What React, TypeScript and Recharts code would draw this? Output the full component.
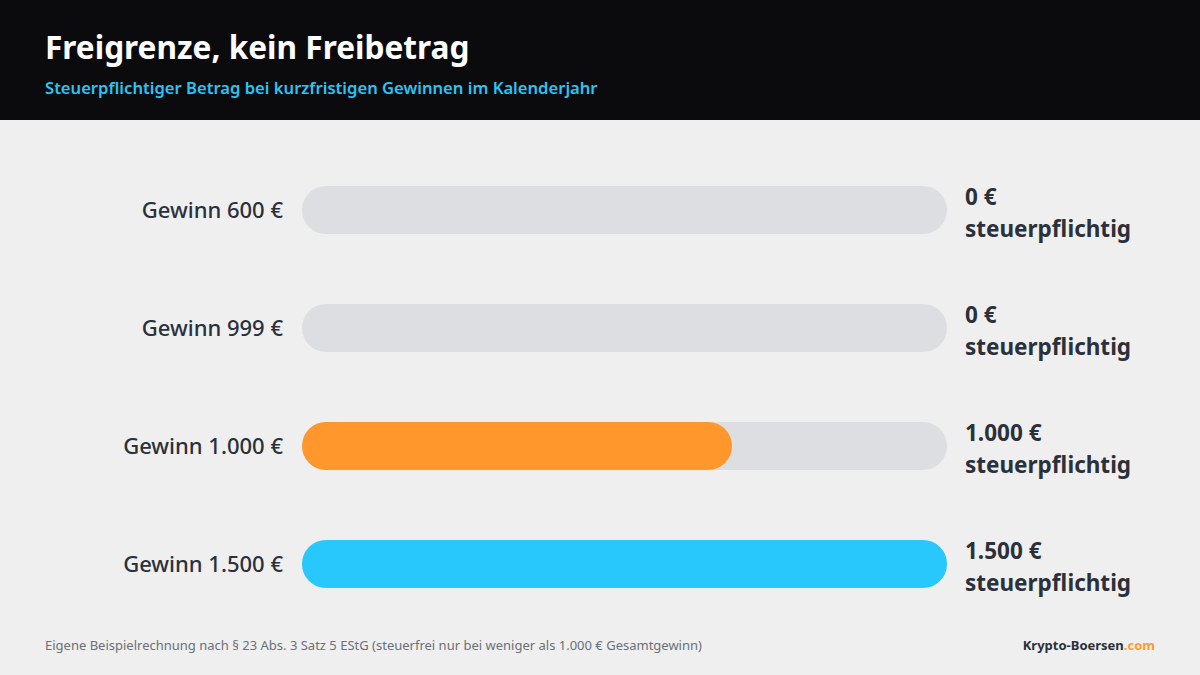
import React from 'react';
import { BarChart, Bar, XAxis, YAxis, Cell } from 'recharts';

const categories = ['Gewinn 600 €', 'Gewinn 999 €', 'Gewinn 1.000 €', 'Gewinn 1.500 €'];
const taxable = [0, 0, 1000, 1500];
const valueLabels = ['0 €', '0 €', '1.000 €', '1.500 €'];
const barColors = ['#ff9a2e', '#ff9a2e', '#ff972d', '#29c8fc'];
const MAX_VALUE = 1500;

const data = categories.map((name, i) => ({ name, value: taxable[i], track: MAX_VALUE, label: valueLabels[i] }));

const FONT = '"Noto Sans", sans-serif';
const DARK = '#2b303a';

const LeftTick = ({ x, y, payload }: any) => (
  <text x={x - 11} y={y} dy={8} textAnchor="end" fontFamily={FONT} fontSize={22} fontWeight={500} fill={DARK}>
    {payload.value}
  </text>
);

const RightTick = ({ x, y, payload }: any) => {
  const row = data.find((d) => d.name === payload.value);
  return (
    <g>
      <text x={x + 10} y={y - 5} textAnchor="start" fontFamily={FONT} fontSize={22.5} fontWeight={700} fill={DARK}>
        {row ? row.label : ''}
      </text>
      <text x={x + 10} y={y + 27} textAnchor="start" fontFamily={FONT} fontSize={22.5} fontWeight={700} fill={DARK}>
        steuerpflichtig
      </text>
    </g>
  );
};

export default function App() {
  return (
    <div style={{ position: 'absolute', left: 0, top: 0, width: 1200, height: 675, background: '#efefef', fontFamily: FONT, overflow: 'hidden' }}>
      <div style={{ position: 'absolute', left: 0, top: 0, width: 1200, height: 120, background: '#0b0b0d' }}>
        <div style={{ position: 'absolute', left: 45, top: 25, color: '#fff', fontSize: 31.6, fontWeight: 700 }}>
          Freigrenze, kein Freibetrag
        </div>
        <div style={{ position: 'absolute', left: 45, top: 76, color: '#29c5f6', fontSize: 16.6, fontWeight: 600 }}>
          Steuerpflichtiger Betrag bei kurzfristigen Gewinnen im Kalenderjahr
        </div>
      </div>
      <div style={{ position: 'absolute', left: 0, top: 0 }}>
        <BarChart
          width={1200}
          height={675}
          data={data}
          layout="vertical"
          margin={{ top: 151, right: 0, bottom: 52, left: 0 }}
          barGap={-48}
        >
          <XAxis type="number" domain={[0, MAX_VALUE]} hide />
          <YAxis
            yAxisId="left"
            type="category"
            dataKey="name"
            width={302}
            axisLine={false}
            tickLine={false}
            tick={<LeftTick />}
          />
          <YAxis
            yAxisId="right"
            orientation="right"
            type="category"
            dataKey="name"
            width={253}
            axisLine={false}
            tickLine={false}
            tick={<RightTick />}
          />
          <Bar yAxisId="left" dataKey="track" barSize={48} radius={24} fill="#dddee2" isAnimationActive={false} />
          <Bar yAxisId="left" dataKey="value" barSize={48} radius={24} isAnimationActive={false}>
            {data.map((d, i) => (
              <Cell key={d.name} fill={barColors[i]} />
            ))}
          </Bar>
        </BarChart>
      </div>
      <div style={{ position: 'absolute', left: 45, top: 636, color: '#6b6f78', fontSize: 13 }}>
        Eigene Beispielrechnung nach § 23 Abs. 3 Satz 5 EStG (steuerfrei nur bei weniger als 1.000 € Gesamtgewinn)
      </div>
      <div style={{ position: 'absolute', right: 45, top: 636, fontSize: 13, fontWeight: 700, color: DARK }}>
        Krypto-Boersen<span style={{ color: '#ff9a2e' }}>.com</span>
      </div>
    </div>
  );
}
